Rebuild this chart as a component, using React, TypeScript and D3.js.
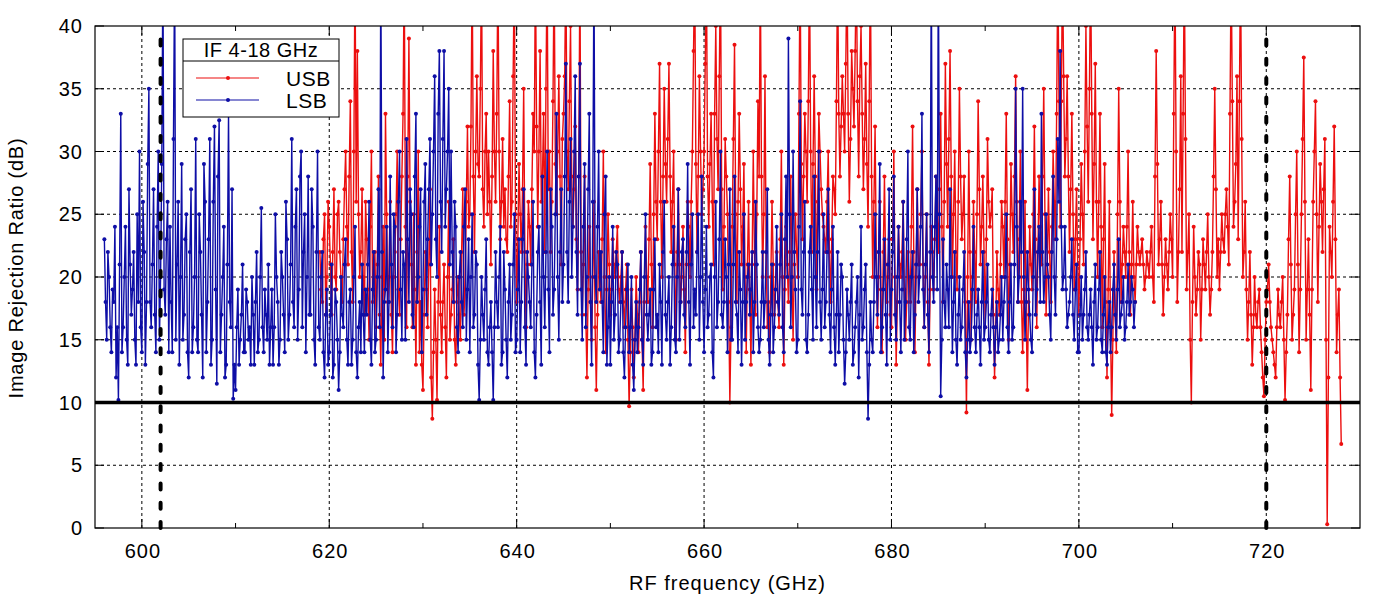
import * as d3 from "d3";

const W = 1400;
const H = 600;
const margin = { left: 95, right: 40, top: 26, bottom: 72 };

const xDomain = [595, 730];
const yDomain = [0, 40];
const xTicks = [600, 620, 640, 660, 680, 700, 720];
const xMinorTicks = [610, 630, 650, 670, 690, 710];
const yTicks = [0, 5, 10, 15, 20, 25, 30, 35, 40];
const bandEdges = [602, 720];
const threshold = 10;

// readings on a 0.25 GHz grid, plus the readings half way between them
const step = 0.25;
const lsbStart = 596;
const lsbValues = [
  23, 15, 20, 14, 18, 12, 10.2, 33, 16, 24, 13, 21, 19, 15, 25, 30,
  14, 22, 18, 35, 16, 27, 14, 30, 20, 45, 17, 26, 24, 14, 45, 21,
  13, 29, 17, 25, 12, 27, 16, 31, 14, 22, 12, 26, 18, 31, 15, 32,
  11.5, 32.5, 17, 24, 13, 33, 16, 10.3, 11, 19, 15, 21, 14, 18, 16, 20,
  13, 22, 15, 25.5, 14, 17, 21, 16, 13, 25, 18, 15, 20, 14, 23, 17,
  31, 16, 27, 19, 30, 22, 14, 28, 17, 24, 13, 30, 15, 22, 12, 19,
  14, 21, 13, 18, 11, 20, 16, 23, 13, 19, 15, 24, 12, 18, 21, 14,
  17, 26, 13, 22, 15, 27, 45, 12, 19, 14, 28, 16, 24, 17, 30, 15,
  21, 31, 18, 25, 16, 33, 20, 27, 19, 29, 23, 31, 25, 36, 20, 38,
  22, 38, 27, 35, 30, 18, 24, 14, 22, 16, 27, 19, 14, 25, 17, 21,
  10.2, 20, 15, 23, 13, 18, 10.2, 22, 16, 24, 14, 19, 12, 21, 17, 25,
  15, 23, 18, 27, 13, 20, 16, 26, 12, 22, 18, 28, 16, 30, 14, 24,
  19, 33, 15, 27, 21, 37, 18, 31, 24, 36, 17, 37, 15, 29, 20, 33,
  13, 45, 18, 30, 22, 14, 28, 16, 13, 24, 17, 21, 15, 22, 12, 19,
  14, 20, 11, 18, 16, 22, 13, 25, 15, 19, 14, 23, 17, 21, 13, 26,
  15, 20, 16, 24, 14, 27, 18, 23, 16, 29, 13, 25, 19, 22, 15, 28,
  14, 24, 17, 21, 12, 26, 18, 30, 16, 23, 14, 27, 15, 28, 17, 22,
  13, 25, 18, 21, 19, 14, 26, 16, 15, 22, 18, 27, 13, 21, 16, 24,
  17, 25, 14, 28, 39, 16, 30, 19, 15, 34, 17, 26, 14, 22, 19, 28,
  16, 30, 15, 25, 18, 27, 14, 24, 13, 22, 17, 20, 11.5, 19, 15, 21,
  14, 18, 12, 24, 16, 21, 8.7, 18, 14, 25, 17, 29, 16, 23, 13, 27,
  19, 28, 15, 24, 14, 26, 18, 30, 15, 22, 17, 27, 20, 33, 16, 25,
  14, 45, 18, 28, 45, 10.5, 23, 16, 19, 27, 14, 22, 13, 20, 16, 22,
  12, 18, 15, 24, 14, 19, 13, 22, 16, 21, 14, 19, 13, 18, 15, 20,
  18, 25, 14, 21, 16, 35, 18, 26, 35, 15, 22, 17, 14, 27, 19, 24,
  33, 18, 25, 20, 15, 28, 17, 31, 38, 19, 24, 16, 18, 23, 15, 21,
  14, 20, 17, 22, 15, 19, 13, 21, 16, 22, 14, 20, 13, 18, 16, 21,
  15, 23, 17, 20, 16, 21, 18, 19, 18,
];
const lsbMid = [
  18, 22, 16, 19, 24, 16, 21, 14, 20, 15, 27, 17, 22, 13, 18, 16,
  26, 13, 29, 18, 21, 17, 24, 15, 29, 19, 23, 14, 18, 31, 15, 26,
  20, 15, 23, 14, 22, 14, 20, 15, 25, 17, 29, 14, 23, 13, 26, 19,
  28, 14, 20, 12, 21, 18, 27, 13, 16, 13, 17, 14, 19, 15, 13, 17,
  18, 14, 20, 16, 19, 15, 13, 19, 16, 20, 13, 22, 17, 26, 15, 21,
  18, 24, 15, 28, 16, 25, 20, 17, 27, 15, 22, 16, 20, 14, 17, 13,
  17, 12, 19, 15, 14, 17, 21, 15, 18, 13, 20, 14, 16, 14, 17, 19,
  21, 15, 19, 14, 20, 16, 22, 18, 24, 18, 21, 25, 14, 26, 19, 22,
  15, 23, 27, 17, 28, 18, 24, 14, 26, 17, 27, 21, 30, 23, 33, 26,
  31, 24, 30, 21, 22, 26, 16, 20, 18, 24, 15, 23, 20, 16, 22, 13,
  15, 17, 19, 14, 16, 14, 16, 18, 20, 13, 22, 15, 18, 15, 21, 14,
  19, 14, 23, 16, 22, 18, 21, 14, 17, 24, 13, 20, 22, 19, 27, 17,
  25, 20, 22, 18, 28, 22, 26, 20, 30, 22, 28, 19, 24, 16, 27, 18,
  26, 20, 24, 19, 18, 25, 13, 20, 18, 15, 22, 14, 18, 14, 16, 21,
  16, 13, 15, 14, 19, 15, 20, 17, 17, 13, 19, 16, 14, 18, 22, 17,
  18, 13, 21, 15, 20, 15, 22, 17, 22, 18, 21, 16, 17, 25, 20, 18,
  19, 16, 20, 14, 20, 16, 23, 17, 18, 20, 21, 15, 21, 18, 14, 19,
  18, 15, 20, 17, 22, 18, 21, 14, 18, 16, 22, 15, 17, 14, 19, 18,
  21, 16, 23, 20, 25, 20, 22, 14, 24, 19, 22, 15, 17, 24, 15, 20,
  22, 18, 19, 16, 22, 17, 19, 16, 17, 14, 21, 15, 14, 17, 18, 13,
  16, 20, 17, 15, 19, 14, 13, 15, 18, 20, 22, 14, 19, 17, 21, 15,
  22, 17, 20, 18, 19, 15, 23, 16, 20, 14, 21, 18, 24, 19, 21, 17,
  22, 20, 24, 19, 25, 15, 18, 21, 16, 20, 18, 15, 17, 15, 19, 14,
  15, 14, 19, 16, 17, 16, 18, 15, 18, 15, 17, 16, 16, 14, 17, 15,
  20, 16, 18, 15, 21, 24, 20, 22, 20, 18, 19, 15, 20, 17, 22, 18,
  22, 20, 21, 17, 22, 20, 23, 26, 24, 20, 19, 17, 20, 17, 19, 14,
  17, 15, 19, 16, 17, 16, 18, 15, 19, 15, 17, 14, 16, 14, 19, 17,
  19, 16, 18, 15, 18, 17, 20, 16,
];

const usbStart = 619;
const usbValues = [
  22, 18, 25, 20, 24, 17, 27, 19, 26, 20, 23, 30, 21, 34, 18, 45,
  38, 20, 27, 17, 23, 15, 30, 19, 16, 28, 13, 24, 33, 18, 26, 14,
  22, 30, 17, 28, 45, 16, 39, 21, 25, 13, 30, 18, 11, 22, 16, 27,
  8.7, 19, 10.2, 24, 14, 21, 12, 26, 17, 23, 13, 20, 15, 27, 19, 32,
  25, 45, 22, 36, 28, 45, 24, 33, 30, 21, 38, 26, 45, 23, 31, 27,
  22, 34, 26, 45, 18, 29, 22, 35, 16, 26, 21, 33, 45, 24, 38, 28,
  22, 45, 30, 26, 45, 25, 36, 21, 33, 45, 27, 40, 24, 32, 19, 45,
  17, 28, 12, 24, 15, 26, 11, 22, 18, 30, 14, 25, 17, 23, 20, 24,
  18, 22, 16, 21, 9.7, 19, 12, 20, 14, 22, 11, 24, 18, 29, 16, 33,
  23, 37, 20, 35, 26, 37, 22, 30, 15, 27, 18, 24, 14, 26, 20, 30,
  45, 22, 36, 25, 30, 45, 24, 33, 21, 40, 27, 45, 19, 31, 25, 10,
  24, 38.5, 18, 33, 21, 29, 14, 26, 13, 30, 17, 34, 45, 20, 36, 16,
  14, 26, 17, 22, 16, 30, 13, 24, 18, 28, 15, 25, 20, 45, 23, 33,
  26, 45, 22, 36, 19, 33, 27, 24, 22, 30, 18, 28, 25, 45, 28, 36,
  30, 45, 26, 38, 32, 45, 28, 40, 27, 37, 24, 45, 20, 32, 16, 26,
  14, 28, 18, 23, 16, 30, 13, 24, 20, 26, 15, 22, 18, 32, 14, 27,
  21, 30, 16, 25, 13, 24, 19, 28, 22, 33, 18, 37, 24, 38, 20, 30,
  19, 35, 23, 28, 9.2, 30, 15, 26, 18, 34, 21, 28, 16, 31, 24, 27,
  12, 22, 17, 26, 20, 33, 15, 29, 22, 36, 18, 30, 14, 26, 11, 24,
  19, 32, 16, 28, 21, 35, 17, 27, 18, 30, 23, 45, 24, 45, 28, 36,
  22, 33, 19, 27, 17, 29, 21, 40, 26, 45, 23, 37, 20, 33, 16, 29,
  12, 26, 9, 22, 14, 35, 18, 24, 20, 30, 17, 26, 18, 24, 21, 23,
  19, 22, 20, 24, 18, 38, 21, 26, 17, 23, 19, 25, 20, 45, 18, 27,
  22, 45, 19, 25, 10, 24, 17, 22, 15, 23, 19, 25, 17, 22, 35, 20,
  19, 25, 22, 27, 21, 45, 24, 29, 23, 45, 20, 26, 15, 22, 13, 20,
  16, 19, 14, 10.5, 18, 21, 16, 14, 12, 19, 16, 20, 10.2, 17, 28, 15,
  19, 30, 14, 25, 37.5, 15, 23, 11, 26, 34, 18, 29, 22, 31, 0.3, 24,
  20, 32, 14, 19, 6.7,
];
const usbMid = [
  19, 23, 17, 26, 21, 22, 20, 25, 22, 18, 27, 24, 28, 22, 30, 26,
  25, 22, 20, 26, 19, 24, 18, 22, 21, 17, 20, 15, 25, 20, 17, 20,
  25, 19, 23, 33, 24, 28, 26, 16, 19, 22, 14, 13, 17, 19, 21, 12,
  14, 15, 18, 17, 18, 16, 20, 15, 19, 15, 18, 17, 22, 17, 26, 24,
  32, 28, 30, 29, 35, 27, 30, 25, 26, 28, 30, 33, 30, 26, 24, 23,
  28, 24, 36, 25, 23, 25, 27, 22, 21, 24, 27, 30, 32, 30, 26, 33,
  35, 27, 22, 34, 29, 30, 28, 31, 36, 30, 34, 28, 27, 23, 28, 22,
  21, 17, 19, 18, 20, 16, 17, 20, 23, 20, 19, 21, 19, 21, 22, 19,
  20, 18, 19, 15, 14, 16, 15, 17, 18, 15, 18, 20, 23, 21, 25, 26,
  30, 26, 28, 29, 31, 28, 26, 21, 22, 21, 20, 19, 21, 24, 26, 38,
  29, 28, 30, 27, 37, 28, 29, 26, 33, 31, 36, 27, 24, 28, 18, 16,
  31, 25, 26, 27, 24, 20, 21, 19, 21, 22, 25, 28, 28, 25, 22, 18,
  20, 21, 19, 18, 23, 20, 19, 21, 22, 20, 21, 22, 33, 29, 28, 30,
  34, 30, 29, 28, 26, 30, 25, 23, 26, 22, 23, 27, 34, 33, 32, 33,
  37, 33, 31, 35, 38, 34, 36, 33, 31, 29, 34, 28, 26, 22, 20, 19,
  22, 21, 20, 17, 23, 20, 18, 21, 22, 19, 18, 20, 24, 22, 20, 21,
  25, 21, 20, 18, 19, 22, 23, 25, 27, 24, 26, 29, 31, 28, 25, 22,
  26, 28, 25, 18, 20, 22, 20, 22, 25, 27, 24, 22, 23, 26, 25, 17,
  16, 19, 21, 24, 26, 23, 21, 25, 28, 26, 23, 18, 19, 17, 18, 21,
  25, 23, 22, 24, 28, 25, 21, 22, 24, 26, 33, 34, 34, 36, 31, 28,
  27, 25, 23, 21, 23, 25, 30, 32, 35, 33, 29, 26, 26, 24, 23, 18,
  19, 16, 15, 17, 25, 26, 21, 22, 24, 22, 21, 20, 21, 22, 22, 21,
  20, 21, 22, 20, 28, 29, 23, 21, 20, 21, 22, 23, 33, 30, 22, 36,
  33, 31, 22, 15, 18, 20, 19, 21, 19, 21, 22, 20, 19, 28, 27, 23,
  22, 23, 25, 24, 33, 34, 26, 36, 34, 31, 22, 19, 18, 17, 16, 17,
  18, 16, 12, 15, 19, 18, 15, 13, 16, 17, 18, 15, 14, 23, 21, 17,
  25, 21, 19, 31, 26, 19, 17, 19, 30, 25, 24, 26, 27, 15, 12, 22,
  26, 23, 17, 12,
];

const series = [
  { name: "USB", color: "#ec0f0f", start: usbStart, values: usbValues, mid: usbMid },
  { name: "LSB", color: "#0e0ea6", start: lsbStart, values: lsbValues, mid: lsbMid },
];

const font = "'Liberation Sans', Arial, sans-serif";

export default function App() {
  const x = d3.scaleLinear().domain(xDomain).range([margin.left, W - margin.right]);
  const y = d3.scaleLinear().domain(yDomain).range([H - margin.bottom, margin.top]);
  const [x0, x1] = x.range();
  const [y0, y1] = y.range();

  const line = d3
    .line<[number, number]>()
    .x((d) => x(d[0]))
    .y((d) => y(d[1]));

  const pts = (s: (typeof series)[0]) => {
    const a = s.values.map((v, i) => [s.start + i * step, v] as [number, number]);
    const b = s.mid.map((v, i) => [s.start + step / 2 + i * step, v] as [number, number]);
    return a.concat(b).sort((p, q) => p[0] - q[0]);
  };

  // legend
  const lg = { x: 183, y: 39, w: 156, h: 78, head: 22 };

  return (
    <svg
      width={W}
      height={H}
      style={{ position: "absolute", left: 0, top: 0, background: "#fff" }}
      fontFamily={font}
    >
      <defs>
        <clipPath id="plot">
          <rect x={x0} y={y1} width={x1 - x0} height={y0 - y1} />
        </clipPath>
      </defs>

      {/* grid */}
      <g stroke="#000" strokeWidth={1} strokeDasharray="3,3">
        {xTicks.map((t) => (
          <line key={"gx" + t} x1={x(t)} x2={x(t)} y1={y0} y2={y1} />
        ))}
        {yTicks
          .filter((t) => t > 0 && t < 40 && t !== threshold)
          .map((t) => (
            <line key={"gy" + t} x1={x0} x2={x1} y1={y(t)} y2={y(t)} />
          ))}
      </g>

      {/* data */}
      <g clipPath="url(#plot)">
        {series.map((s) => {
          const p = pts(s);
          return (
            <g key={s.name}>
              <path d={line(p) || ""} fill="none" stroke={s.color} strokeWidth={1.4} />
              {p.map((d, i) => (
                <circle key={i} cx={x(d[0])} cy={y(d[1])} r={2} fill={s.color} />
              ))}
            </g>
          );
        })}
      </g>

      {/* band edges and threshold */}
      <g stroke="#000" strokeWidth={4} strokeDasharray="6,13.3" strokeLinecap="round">
        {bandEdges.map((f) => (
          <line key={"be" + f} x1={x(f)} x2={x(f)} y1={y0} y2={y1 + 3} />
        ))}
      </g>
      <line x1={x0} x2={x1} y1={y(threshold)} y2={y(threshold)} stroke="#000" strokeWidth={3.5} />

      {/* frame and ticks */}
      <rect x={x0} y={y1} width={x1 - x0} height={y0 - y1} fill="none" stroke="#000" strokeWidth={1.2} />
      <g stroke="#000" strokeWidth={1}>
        {xTicks.map((t) => (
          <g key={"tx" + t}>
            <line x1={x(t)} x2={x(t)} y1={y0} y2={y0 - 9} />
            <line x1={x(t)} x2={x(t)} y1={y1} y2={y1 + 9} />
          </g>
        ))}
        {xMinorTicks.map((t) => (
          <g key={"tm" + t}>
            <line x1={x(t)} x2={x(t)} y1={y0} y2={y0 - 5} />
            <line x1={x(t)} x2={x(t)} y1={y1} y2={y1 + 5} />
          </g>
        ))}
        {yTicks.map((t) => (
          <g key={"ty" + t}>
            <line x1={x0} x2={x0 + 9} y1={y(t)} y2={y(t)} />
            <line x1={x1} x2={x1 - 9} y1={y(t)} y2={y(t)} />
          </g>
        ))}
      </g>

      {/* tick labels */}
      <g fontSize={20} fill="#000" letterSpacing={1}>
        {xTicks.map((t) => (
          <text key={"lx" + t} x={x(t) + 1} y={y0 + 30} textAnchor="middle">
            {t}
          </text>
        ))}
        {yTicks.map((t) => (
          <text key={"ly" + t} x={x0 - 12} y={y(t) + 7} textAnchor="end">
            {t}
          </text>
        ))}
      </g>

      {/* axis titles */}
      <text x={(x0 + x1) / 2} y={590} textAnchor="middle" fontSize={20} letterSpacing={1}>
        RF frequency (GHz)
      </text>
      <text
        transform="translate(23, 268) rotate(-90)"
        textAnchor="middle"
        fontSize={20}
        letterSpacing={0.8}
      >
        Image Rejection Ratio (dB)
      </text>

      {/* legend */}
      <g>
        <rect x={lg.x} y={lg.y} width={lg.w} height={lg.h} fill="#fff" stroke="#000" strokeWidth={1} />
        <line x1={lg.x} x2={lg.x + lg.w} y1={lg.y + lg.head} y2={lg.y + lg.head} stroke="#000" />
        <text x={lg.x + lg.w / 2} y={lg.y + 18} textAnchor="middle" fontSize={20} letterSpacing={0.5}>
          IF 4-18 GHz
        </text>
        {series.map((s, i) => {
          const ly = lg.y + 39 + i * 22;
          return (
            <g key={"lg" + s.name}>
              <line x1={196} x2={259} y1={ly} y2={ly} stroke={s.color} strokeWidth={1.2} />
              <circle cx={228} cy={ly} r={2} fill={s.color} />
              <text x={286} y={ly + 8} fontSize={21} letterSpacing={0.5}>
                {s.name}
              </text>
            </g>
          );
        })}
      </g>
    </svg>
  );
}
